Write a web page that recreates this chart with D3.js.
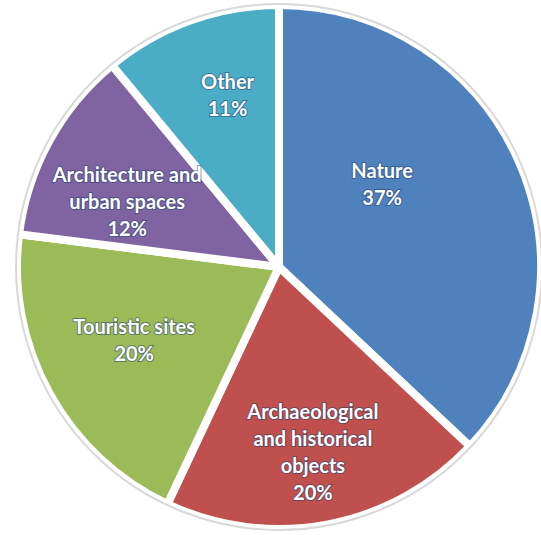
<!DOCTYPE html>
<html>
<head>
<meta charset="utf-8">
<script src="https://cdn.jsdelivr.net/npm/d3@7"></script>
<style>
  body { margin: 0; background: #fff; }
  svg { display: block; }
</style>
</head>
<body>
<div id="pie-chart"></div>
<script>
// Chart values
const categories = ["Nature", "Archaeological and historical objects", "Touristic sites", "Architecture and urban spaces", "Other"];
const shares = [37, 20, 20, 12, 11];
// Label lines as shown inside each slice
const labelLines = [
  ["Nature", "37%"],
  ["Archaeological", "and historical", "objects", "20%"],
  ["Touristic sites", "20%"],
  ["Architecture and", "urban spaces", "12%"],
  ["Other", "11%"]
];
const colors = ["#4F81BD", "#C0504D", "#9BBB59", "#8064A2", "#4BACC6"];

// Size and layout
const width = 541,
      height = 535;
const cx = 279, cy = 267, radius = 262;
// small label nudges (px) to follow the best-fit placement of the original
const labelNudge = [[-58, -13], [1, 13], [9, -11], [2, 20], [8, -6]];

const svg = d3.select("#pie-chart")
  .append("svg")
  .attr("width", width)
  .attr("height", height);

const g = svg.append("g")
  .attr("transform", `translate(${cx}, ${cy})`);

const pie = d3.pie().sort(null).value(d => d);
const arcs = pie(shares);

const arc = d3.arc().innerRadius(0).outerRadius(radius);
const labelArc = d3.arc().innerRadius(radius * 0.67).outerRadius(radius * 0.67);

g.selectAll("path.slice")
  .data(arcs)
  .enter()
  .append("path")
  .attr("class", "slice")
  .attr("d", arc)
  .attr("fill", (d, i) => colors[i])
  .attr("stroke", "#fff")
  .attr("stroke-width", 8)
  .attr("stroke-linejoin", "round");

// faint outer rim
g.append("circle")
  .attr("r", radius + 1)
  .attr("fill", "none")
  .attr("stroke", "#d9d9d9")
  .attr("stroke-width", 2);

const lineH = 27;
const labels = g.selectAll("text.label")
  .data(arcs)
  .enter()
  .append("text")
  .attr("class", "label")
  .attr("text-anchor", "middle")
  .attr("font-family", "Lato, 'Open Sans', sans-serif")
  .attr("font-weight", "bold")
  .attr("font-size", 20)
  .attr("fill", "#fff")
  .attr("stroke", "#23406e")
  .attr("stroke-opacity", 0.55)
  .attr("stroke-width", 2)
  .attr("paint-order", "stroke")
  .attr("transform", (d, i) => {
    const [x, y] = labelArc.centroid(d);
    return `translate(${x + labelNudge[i][0]}, ${y + labelNudge[i][1]})`;
  });

labels.each(function(d, i) {
  const lines = labelLines[i];
  const top = -(lines.length - 1) * lineH / 2;
  d3.select(this).selectAll("tspan")
    .data(lines)
    .enter()
    .append("tspan")
    .attr("x", 0)
    .attr("y", (t, j) => top + j * lineH)
    .attr("dy", "0.35em")
    .text(t => t);
});
</script>
</body>
</html>
